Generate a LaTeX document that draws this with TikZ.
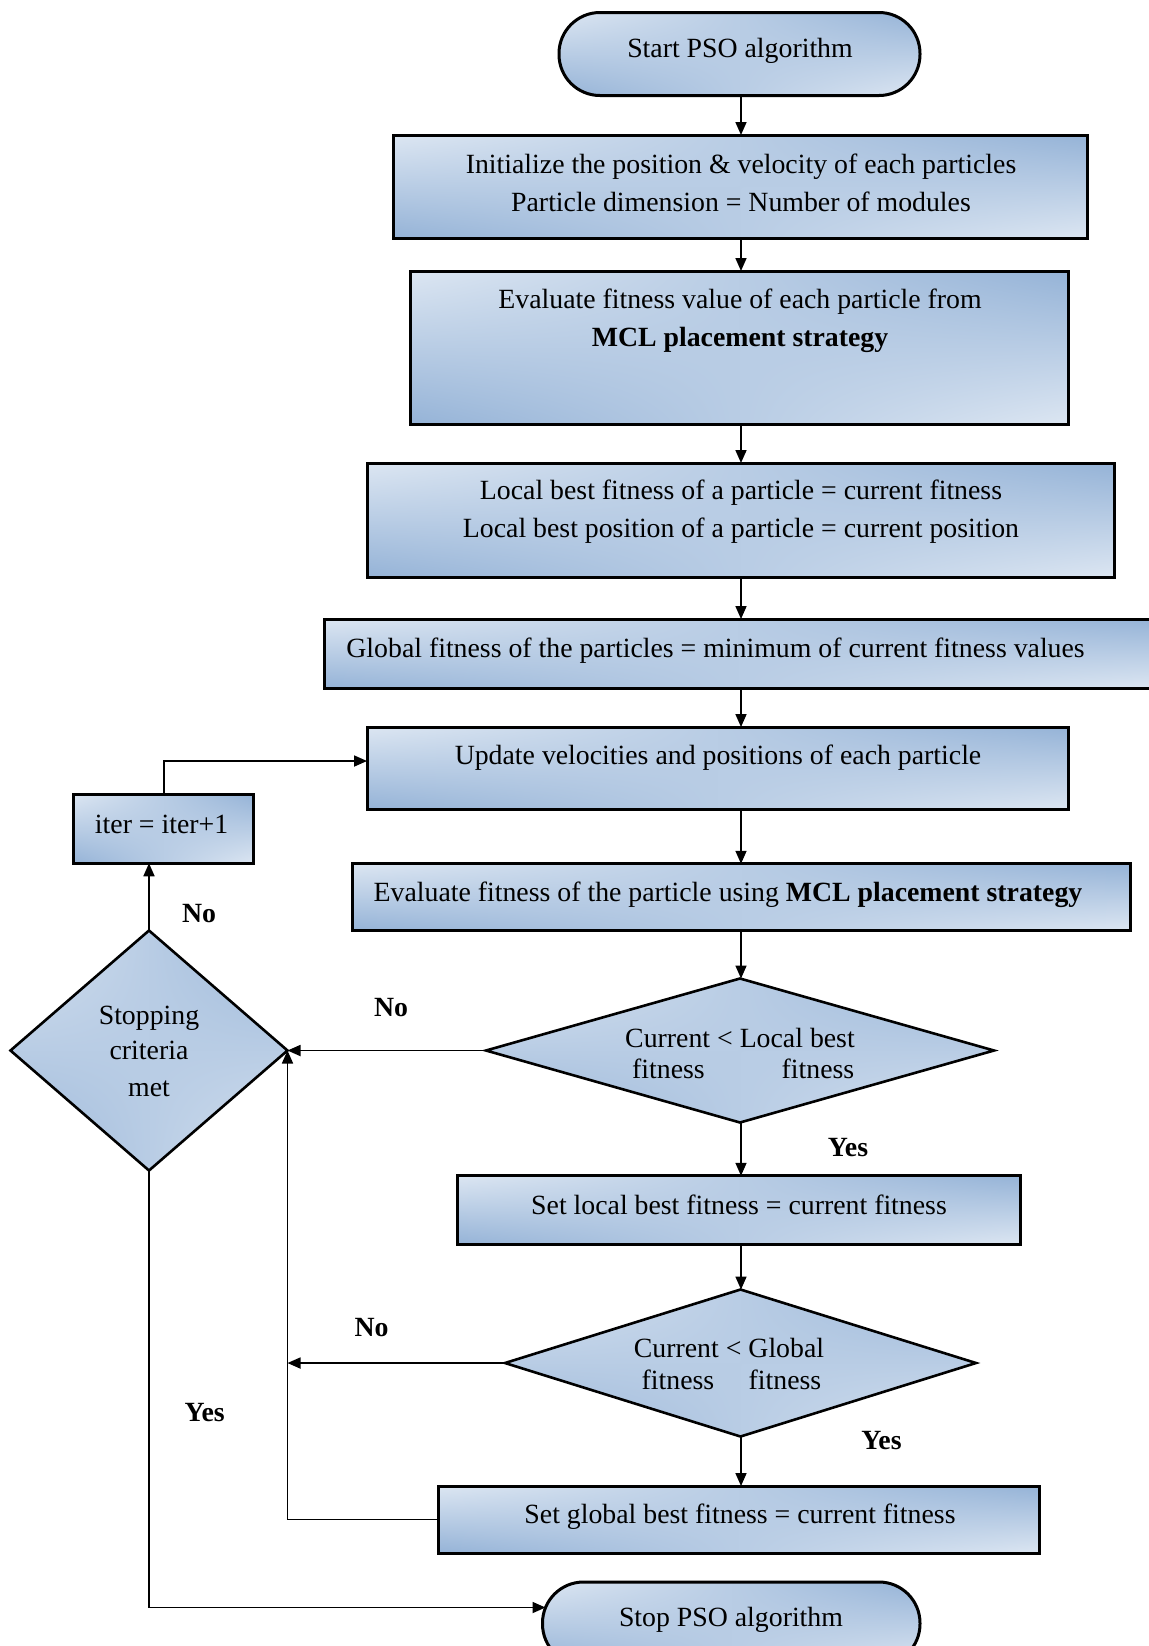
\documentclass[tikz,border=0pt]{standalone}
\usepackage{fontspec}
\setmainfont{Liberation Serif}
\usetikzlibrary{arrows.meta,shapes.geometric,calc,shadings}
\definecolor{bdark}{HTML}{95B3D7}
\definecolor{blight}{HTML}{DCE6F2}
\begin{document}
\begin{tikzpicture}[x=0.5pt,y=-0.5pt,
  font=\fontsize{13.9}{16}\selectfont,
  fillgrad/.style={shade, upper left=blight, upper right=bdark, lower left=bdark, lower right=blight},
  sz/.style 2 args={minimum width={#1*0.5pt}, minimum height={#2*0.5pt}},
  box/.style={fillgrad, draw, line width=1.5pt, inner sep=0pt, outer sep=0pt},
  dia/.style={diamond, fillgrad, draw, line width=1.3pt, inner sep=0pt, outer sep=0pt},
  txt/.style={inner sep=0pt, text height=1.5ex, text depth=.25ex, yshift=-2pt},
  lbl/.style={txt, font=\fontsize{13.9}{16}\selectfont\bfseries},
  arr/.style={draw, line width=0.85pt, -{Triangle[length=6.5pt,width=5.5pt]}}]
\useasboundingbox (0,0) rectangle (1149,1646);
\clip (0,0) rectangle (1149,1646);
\coordinate (col) at (741,0);
% shapes
\node[box, rounded corners=20.5pt, sz={361}{83}] (start) at (739.5,54) {};
\node[box, sz={693.5}{103}] (b1) at (740.25,186.5) {};
\node[box, sz={658}{153}] (b2) at (739,347.5) {};
\node[box, sz={747}{114}] (b3) at (740.5,520) {};
\node[box, sz={828}{69}] (b4) at (738,653.5) {};
\node[box, sz={701}{82}] (b5) at (717.5,768) {};
\node[box, sz={777.5}{66.5}] (b6) at (741.25,897) {};
\node[dia, sz={508}{144}] (d1) at (740,1050.5) {};
\node[box, sz={562.5}{68.5}] (b7) at (738.75,1210) {};
\node[dia, sz={471}{147}] (d2) at (740.5,1363) {};
\node[box, sz={600.4}{67}] (b8) at (738.8,1519.5) {};
\node[box, rounded corners=20.5pt, sz={377.5}{83}] (stop) at (731.25,1623.5) {};
\node[dia, sz={277}{240}] (sc) at (149,1050.5) {};
\node[box, sz={180.5}{68.5}] (iter) at (163.7,829) {};
% texts
\node[txt] (t0) at (740,48) {Start PSO algorithm};
\node[txt] (t1a) at (741,163.7) {Initialize the position \& velocity of each particles};
\node[txt] (t1b) at (741,201.5) {Particle dimension = Number of modules};
\node[txt] (t2a) at (740,299) {Evaluate fitness value of each particle from};
\node[lbl] (t2b) at (740,337) {MCL placement strategy};
\node[txt] (t3a) at (741,490) {Local best fitness of a particle = current fitness};
\node[txt] (t3b) at (741,528) {Local best position of a particle = current position};
\node[txt, anchor=west] (t4) at (346,647.5) {Global fitness of the particles = minimum of current fitness values};
\node[txt] (t5) at (718,755) {Update velocities and positions of each particle};
\node[txt] (t6) at (728,892) {Evaluate fitness of the particle using \textbf{MCL placement strategy}};
\node[txt] (t7a) at (740,1038) {Current < Local best};
\node[txt] (t7b) at (668.5,1069) {fitness};
\node[txt] (t7c) at (818,1069) {fitness};
\node[txt] (t8) at (739,1204.5) {Set local best fitness = current fitness};
\node[txt] (t9a) at (729,1348) {Current < Global};
\node[txt] (t9b) at (678,1380) {fitness};
\node[txt] (t9c) at (785,1380) {fitness};
\node[txt] (t10) at (740,1514) {Set global best fitness = current fitness};
\node[txt] (t11) at (731,1617) {Stop PSO algorithm};
\node[txt] (t12a) at (149,1015) {Stopping};
\node[txt] (t12b) at (149,1050) {criteria};
\node[txt] (t12c) at (149,1087) {met};
\node[txt] (t13) at (161.6,824) {iter = iter+1};
% labels
\node[lbl] (no1) at (199,913) {No};
\node[lbl] (no2) at (391,1007) {No};
\node[lbl] (no3) at (371.5,1327) {No};
\node[lbl] (yes1) at (848,1147) {Yes};
\node[lbl] (yes2) at (881.5,1440) {Yes};
\node[lbl] (yes3) at (204.6,1412) {Yes};
% connectors
\draw[arr] (start.south -| col) -- (b1.north -| col);
\draw[arr] (b1.south -| col) -- (b2.north -| col);
\draw[arr] (b2.south -| col) -- (b3.north -| col);
\draw[arr] (b3.south -| col) -- (b4.north -| col);
\draw[arr] (b4.south -| col) -- (b5.north -| col);
\draw[arr] (b5.south -| col) -- (b6.north -| col);
\draw[arr] (b6.south -| col) -- (d1.north -| col);
\draw[arr] (d1.south -| col) -- (b7.north -| col);
\draw[arr] (b7.south -| col) -- (d2.north -| col);
\draw[arr] (d2.south -| col) -- (b8.north -| col);
\draw[arr] (d1.west) -- (sc.east);
\coordinate (j2) at (sc.east |- d2.west);
\draw[arr] (d2.west) -- (j2);
\draw[arr] (b8.west) -| (sc.east);
\draw[arr] (sc.north) -- (sc.north |- iter.south);
\draw[arr] (iter.north) |- ([yshift=3.5pt]b5.west);
\draw[arr] (sc.south) |- ([xshift=1.5pt,yshift=8pt]stop.west);
\end{tikzpicture}
\end{document}
